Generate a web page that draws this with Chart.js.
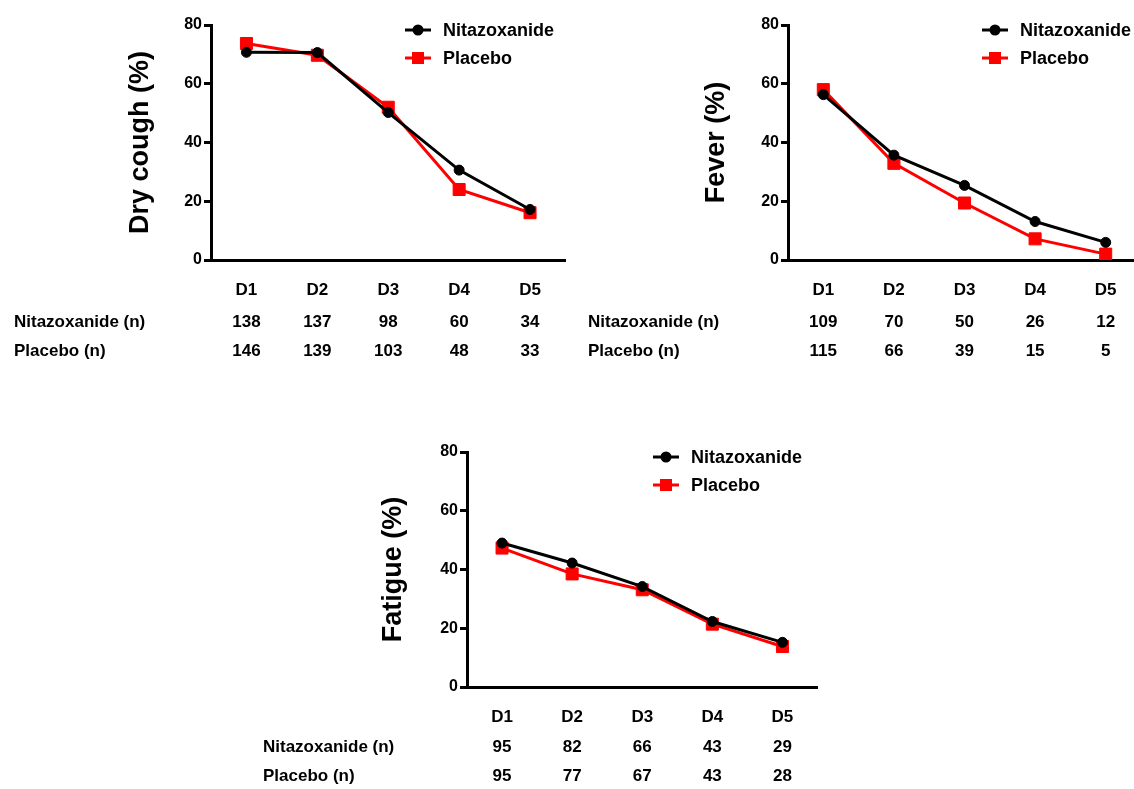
<!DOCTYPE html>
<html>
<head>
<meta charset="utf-8">
<script src="https://cdn.jsdelivr.net/npm/chart.js@4.4.1/dist/chart.umd.min.js"></script>
<style>
body{margin:0;background:#fff;width:1134px;height:789px;position:relative;overflow:hidden}
canvas{position:absolute}
</style>
</head>
<body>
<canvas id="cough" width="575" height="370" style="left:0;top:0"></canvas>
<canvas id="fever" width="590" height="370" style="left:575px;top:0"></canvas>
<canvas id="fatigue" width="577" height="369" style="left:250px;top:420px"></canvas>
<script>
const FONT = "'Liberation Sans', Arial, sans-serif"

const days = ['D1', 'D2', 'D3', 'D4', 'D5']
const yTicks = [0, 20, 40, 60, 80]

// percentages
const coughNita = [70.7, 70.6, 50.2, 30.6, 17.2]
const coughPlac = [73.7, 69.7, 52.0, 24.0, 16.1]
const feverNita = [56.3, 35.7, 25.4, 13.1, 6.0]
const feverPlac = [58.0, 32.9, 19.4, 7.2, 2.0]
const fatigueNita = [49.0, 42.2, 34.2, 22.3, 15.2]
const fatiguePlac = [47.3, 38.5, 33.1, 21.4, 13.8]

// patients at each day
const coughNitaN = [138, 137, 98, 60, 34]
const coughPlacN = [146, 139, 103, 48, 33]
const feverNitaN = [109, 70, 50, 26, 12]
const feverPlacN = [115, 66, 39, 15, 5]
const fatigueNitaN = [95, 82, 66, 43, 29]
const fatiguePlacN = [95, 77, 67, 43, 28]

const tablePlugin = {
  id: 'nTable',
  afterDraw(chart, args, opts) {
    const ctx = chart.ctx
    const x = chart.scales.x
    ctx.save()
    ctx.font = 'bold 17px ' + FONT
    ctx.fillStyle = '#000'
    ctx.textBaseline = 'middle'
    opts.rows.forEach(function(row, r) {
      let y = chart.chartArea.bottom + opts.top + r * opts.gap
      ctx.textAlign = 'left'
      ctx.fillText(row.label, opts.labelX, y)
      ctx.textAlign = 'center'
      row.values.forEach(function(v, i) {
        ctx.fillText(v, x.getPixelForValue(i), y)
      })
    })
    ctx.restore()
  }
}

const legendPlugin = {
  id: 'innerLegend',
  afterDraw(chart, args, opts) {
    const ctx = chart.ctx
    const area = chart.chartArea
    chart.data.datasets.forEach(function(ds, i) {
      let y = area.top + 5 + i * 28
      let x0 = area.left + opts.x
      ctx.save()
      ctx.strokeStyle = ds.borderColor
      ctx.fillStyle = ds.backgroundColor
      ctx.lineWidth = 3
      ctx.beginPath()
      ctx.moveTo(x0, y)
      ctx.lineTo(x0 + 26, y)
      ctx.stroke()
      ctx.beginPath()
      if (ds.pointStyle == 'rect') {
        ctx.rect(x0 + 7, y - 6, 12, 12)
      } else {
        ctx.arc(x0 + 13, y, 5.5, 0, Math.PI * 2)
      }
      ctx.fill()
      ctx.fillStyle = '#000'
      ctx.font = 'bold 18px ' + FONT
      ctx.textBaseline = 'middle'
      ctx.textAlign = 'left'
      ctx.fillText(ds.label, x0 + 38, y + 1)
      ctx.restore()
    })
  }
}

function makeChart(id, title, nita, plac, nitaN, placN, pad, yWidth, legendX, labelX, tableTop) {
  return new Chart(document.getElementById(id), {
    type: 'line',
    data: {
      labels: days,
      datasets: [{
        label: 'Nitazoxanide',
        data: nita,
        borderColor: '#000',
        backgroundColor: '#000',
        borderWidth: 3,
        pointStyle: 'circle',
        pointRadius: 5,
        pointBorderWidth: 1,
        tension: 0
      },
      {
        label: 'Placebo',
        data: plac,
        borderColor: '#ff0000',
        backgroundColor: '#ff0000',
        borderWidth: 3,
        pointStyle: 'rect',
        pointRadius: 8.5,
        pointBorderWidth: 1,
        tension: 0
      }]
    },
    options: {
      responsive: false,
      animation: false,
      layout: { padding: pad },
      plugins: {
        legend: { display: false },
        tooltip: { enabled: false },
        nTable: {
          labelX: labelX,
          top: tableTop,
          gap: 29,
          rows: [
            { label: 'Nitazoxanide (n)', values: nitaN },
            { label: 'Placebo (n)', values: placN }
          ]
        },
        innerLegend: { x: legendX }
      },
      scales: {
        x: {
          offset: true,
          grid: { display: false },
          border: { display: true, color: '#000', width: 3 },
          ticks: { color: '#000', padding: 12, font: { family: FONT, size: 17, weight: 'bold' } },
          afterFit: function(s) { s.height = 40 }
        },
        y: {
          min: 0,
          max: 80,
          afterBuildTicks: function(s) { s.ticks = yTicks.map(function(v) { return { value: v } }) },
          grid: { display: true, drawOnChartArea: false, drawTicks: true, tickLength: 7, color: '#000', lineWidth: 3 },
          border: { display: true, color: '#000', width: 3 },
          ticks: { color: '#000', padding: 2, font: { family: FONT, size: 16, weight: 'bold' } },
          title: { display: true, text: title, color: '#000', font: { family: FONT, size: 27, weight: 'bold' } },
          afterFit: function(s) { s.width = yWidth }
        }
      }
    },
    plugins: [tablePlugin, legendPlugin]
  })
}

makeChart('cough', 'Dry cough (%)', coughNita, coughPlac, coughNitaN, coughPlacN,
  { left: 120, top: 25, right: 5, bottom: 70 }, 91, 194, 14, 62)
makeChart('fever', 'Fever (%)', feverNita, feverPlac, feverNitaN, feverPlacN,
  { left: 121, top: 25, right: 24, bottom: 70 }, 92, 194, 13, 62)
makeChart('fatigue', 'Fatigue (%)', fatigueNita, fatiguePlac, fatigueNitaN, fatiguePlacN,
  { left: 123, top: 32, right: 3, bottom: 62 }, 94, 186, 13, 60)
</script>
</body>
</html>
